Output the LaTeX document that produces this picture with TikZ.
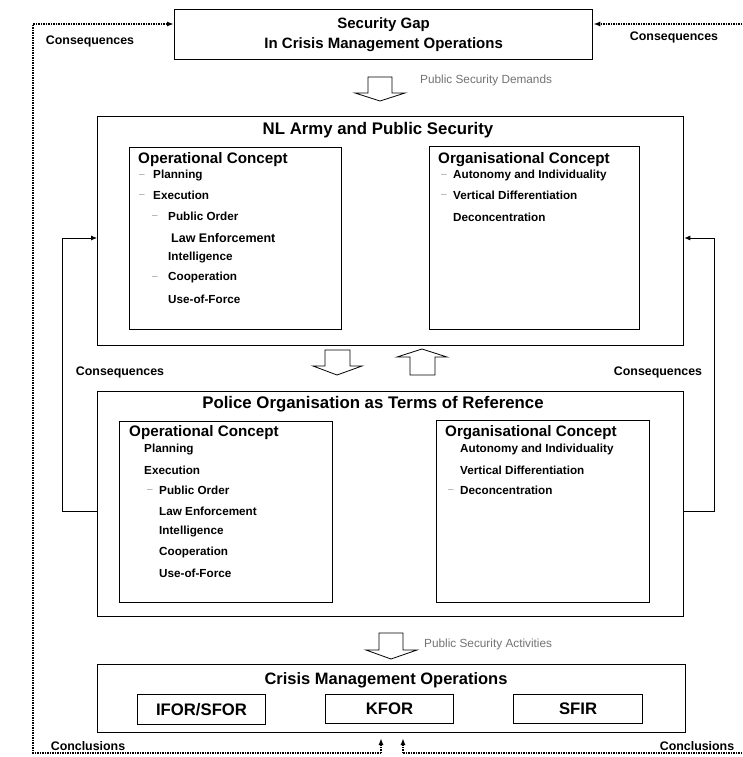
\documentclass[tikz,border=0pt]{standalone}
\usepackage{fontspec}
\setmainfont{Liberation Sans}
\usetikzlibrary{arrows.meta,calc}
\newcommand{\myfs}[1]{\fontsize{#1}{#1}\selectfont}
\tikzset{
  obox/.style={draw, line width=1.3pt, anchor=north west, inner sep=0pt},
  ibox/.style={draw, line width=0.9pt, anchor=north west, inner sep=0pt},
  ttl/.style={inner sep=0pt, font=\myfs{16.8}\bfseries},
  sub/.style={anchor=west, inner sep=0pt, font=\myfs{15.2}\bfseries},
  itm/.style={anchor=west, inner sep=0pt, font=\myfs{11.7}\bfseries},
  dsh/.style={anchor=west, inner sep=0pt, text=black!40, font=\myfs{10}, yshift=-1pt},
  lbl/.style={inner sep=0pt, font=\myfs{12.4}\bfseries},
  glbl/.style={anchor=west, inner sep=0pt, text=black!55, font=\myfs{11.8}},
  conn/.style={line width=0.9pt, -{Latex[length=6pt,width=5pt]}},
  dots/.style={line width=1.4pt, dash pattern=on 1.3pt off 1.2pt},
  dtip/.style={-{Latex[length=7pt,width=5pt]}},
  blk/.style={draw, line width=0.8pt, fill=white, line join=miter},
}
\begin{document}
\begin{tikzpicture}[x=1pt,y=-1pt]
\useasboundingbox (0,0) rectangle (742,757);
\fill[white] (0,0) rectangle (742,757);

% ---------- top box ----------
\node[obox, minimum width=418pt, minimum height=50pt, align=center,
      font=\fontsize{15}{20}\selectfont\bfseries] (gap) at (174,9)
      {Security Gap\\In Crisis Management Operations};

% ---------- NL Army box ----------
\node[obox, minimum width=586pt, minimum height=229pt] (nl) at (97,116) {};
\node[ttl] (nlT) at (378,130) {NL Army and Public Security};
\node[ibox, minimum width=212pt, minimum height=182pt] (nlop) at (129,147) {};
\node[ibox, minimum width=210pt, minimum height=183pt] (nlorg) at (429,146) {};

\node[sub] (nlopT) at (138,160) {Operational Concept};
\node[dsh] (d1) at (139,175) {–};
\node[itm] (n1) at (153,175) {Planning};
\node[dsh] (d2) at (139,195) {–};
\node[itm] (n2) at (153,195) {Execution};
\node[dsh] (d3) at (152,216) {–};
\node[itm] (n3) at (168,216) {Public Order};
\node[itm, font=\myfs{12.5}\bfseries] (n4) at (171,238) {Law Enforcement};
\node[itm] (n5) at (168,257) {Intelligence};
\node[dsh] (d4) at (152,277) {–};
\node[itm] (n6) at (168,277) {Cooperation};
\node[itm] (n7) at (168,299) {Use-of-Force};

\node[sub] (nlorgT) at (438,160) {Organisational Concept};
\node[dsh] (d5) at (441,175) {–};
\node[itm] (o1) at (453,175) {Autonomy and Individuality};
\node[dsh] (d6) at (441,195) {–};
\node[itm] (o2) at (453,195) {Vertical Differentiation};
\node[itm] (o3) at (453,217) {Deconcentration};

% ---------- Police box ----------
\node[obox, minimum width=586pt, minimum height=225pt] (police) at (97,391) {};
\node[ttl] (polT) at (373,404) {Police Organisation as Terms of Reference};
\node[ibox, minimum width=213pt, minimum height=181pt] (polop) at (119,421) {};
\node[ibox, minimum width=213pt, minimum height=182pt] (polorg) at (436,420) {};

\node[sub] (polopT) at (129,433) {Operational Concept};
\node[itm] (p1) at (144,449) {Planning};
\node[itm] (p2) at (144,470) {Execution};
\node[dsh] (d7) at (147,490) {–};
\node[itm] (p3) at (159,490) {Public Order};
\node[itm] (p4) at (159,511) {Law Enforcement};
\node[itm] (p5) at (159,531) {Intelligence};
\node[itm] (p6) at (159,552) {Cooperation};
\node[itm] (p7) at (159,573) {Use-of-Force};

\node[sub] (polorgT) at (445,433) {Organisational Concept};
\node[itm] (q1) at (460,449) {Autonomy and Individuality};
\node[itm] (q2) at (460,470) {Vertical Differentiation};
\node[dsh] (d8) at (448,490) {–};
\node[itm] (q3) at (460,490) {Deconcentration};

% ---------- Crisis Management Operations ----------
\node[obox, minimum width=588pt, minimum height=68pt] (cmo) at (97,664) {};
\node[inner sep=0pt, font=\myfs{16.5}\bfseries] (cmoT) at (386,680) {Crisis Management Operations};
\node[obox, line width=1.1pt, minimum width=128pt, minimum height=30pt, font=\myfs{16.7}\bfseries] (ifor) at (137,694) {IFOR/SFOR};
\node[obox, line width=1.1pt, minimum width=128pt, minimum height=29pt, font=\myfs{16.7}\bfseries] (kfor) at (325,694) {KFOR};
\node[obox, line width=1.1pt, minimum width=129pt, minimum height=29pt, font=\myfs{16.7}\bfseries] (sfir) at (513,694) {SFIR};

% ---------- hollow block arrows ----------
\draw[blk] (368,77) -- (392,77) -- (392,93) -- (405,93) -- (380,101) -- (355,93) -- (368,93) -- cycle;
\draw[blk] (325,350) -- (350,350) -- (350,366) -- (362,366) -- (337,375) -- (313,366) -- (325,366) -- cycle;
\draw[blk] (410,375) -- (435,375) -- (435,357) -- (447,357) -- (422,349) -- (397,357) -- (410,357) -- cycle;
\draw[blk] (379,633) -- (403,633) -- (403,650) -- (417,650) -- (391,659) -- (366,650) -- (379,650) -- cycle;
\node[glbl] (psd) at (420,80) {Public Security Demands};
\node[glbl] (psa) at (424,644) {Public Security Activities};

% ---------- solid feedback connectors ----------
\draw[conn] ($(police.north west)+(0,120)$) -- ++(-35,0) |- ($(nl.north west)+(0,122)$);
\draw[conn] ($(police.north east)+(0,120)$) -- ++(30,0) |- ($(nl.north east)+(0,122)$);

% ---------- dotted loop ----------
\coordinate (gapL) at ($(gap.north west)+(0,15)$);
\coordinate (gapR) at ($(gap.north east)+(0,15)$);
\coordinate (tipL) at (381,738);
\coordinate (tipR) at (403,738);
\coordinate (cornerBL) at (33,753);
\coordinate (cornerTL) at (33,24);
\coordinate (edgeBR) at (742,753);
\coordinate (edgeTR) at (742,24);
\draw[dots, dtip] (tipL |- cornerBL) -- (cornerBL) -- (cornerTL) -- (gapL);
\draw[dots, dtip] (tipL |- cornerBL) -- (tipL);
\draw[dots, dtip] (edgeTR) -- (gapR);
\draw[dots] (edgeBR) -- (tipR |- edgeBR);
\draw[dots, dtip] (tipR |- edgeBR) -- (tipR);

% ---------- labels ----------
\node[lbl] (c1) at (90,41) {Consequences};
\node[lbl] (c2) at (674,37) {Consequences};
\node[lbl] (c3) at (120,372) {Consequences};
\node[lbl] (c4) at (658,372) {Consequences};
\node[lbl] (k1) at (88,746) {Conclusions};
\node[lbl] (k2) at (697,746) {Conclusions};
\end{tikzpicture}
\end{document}
